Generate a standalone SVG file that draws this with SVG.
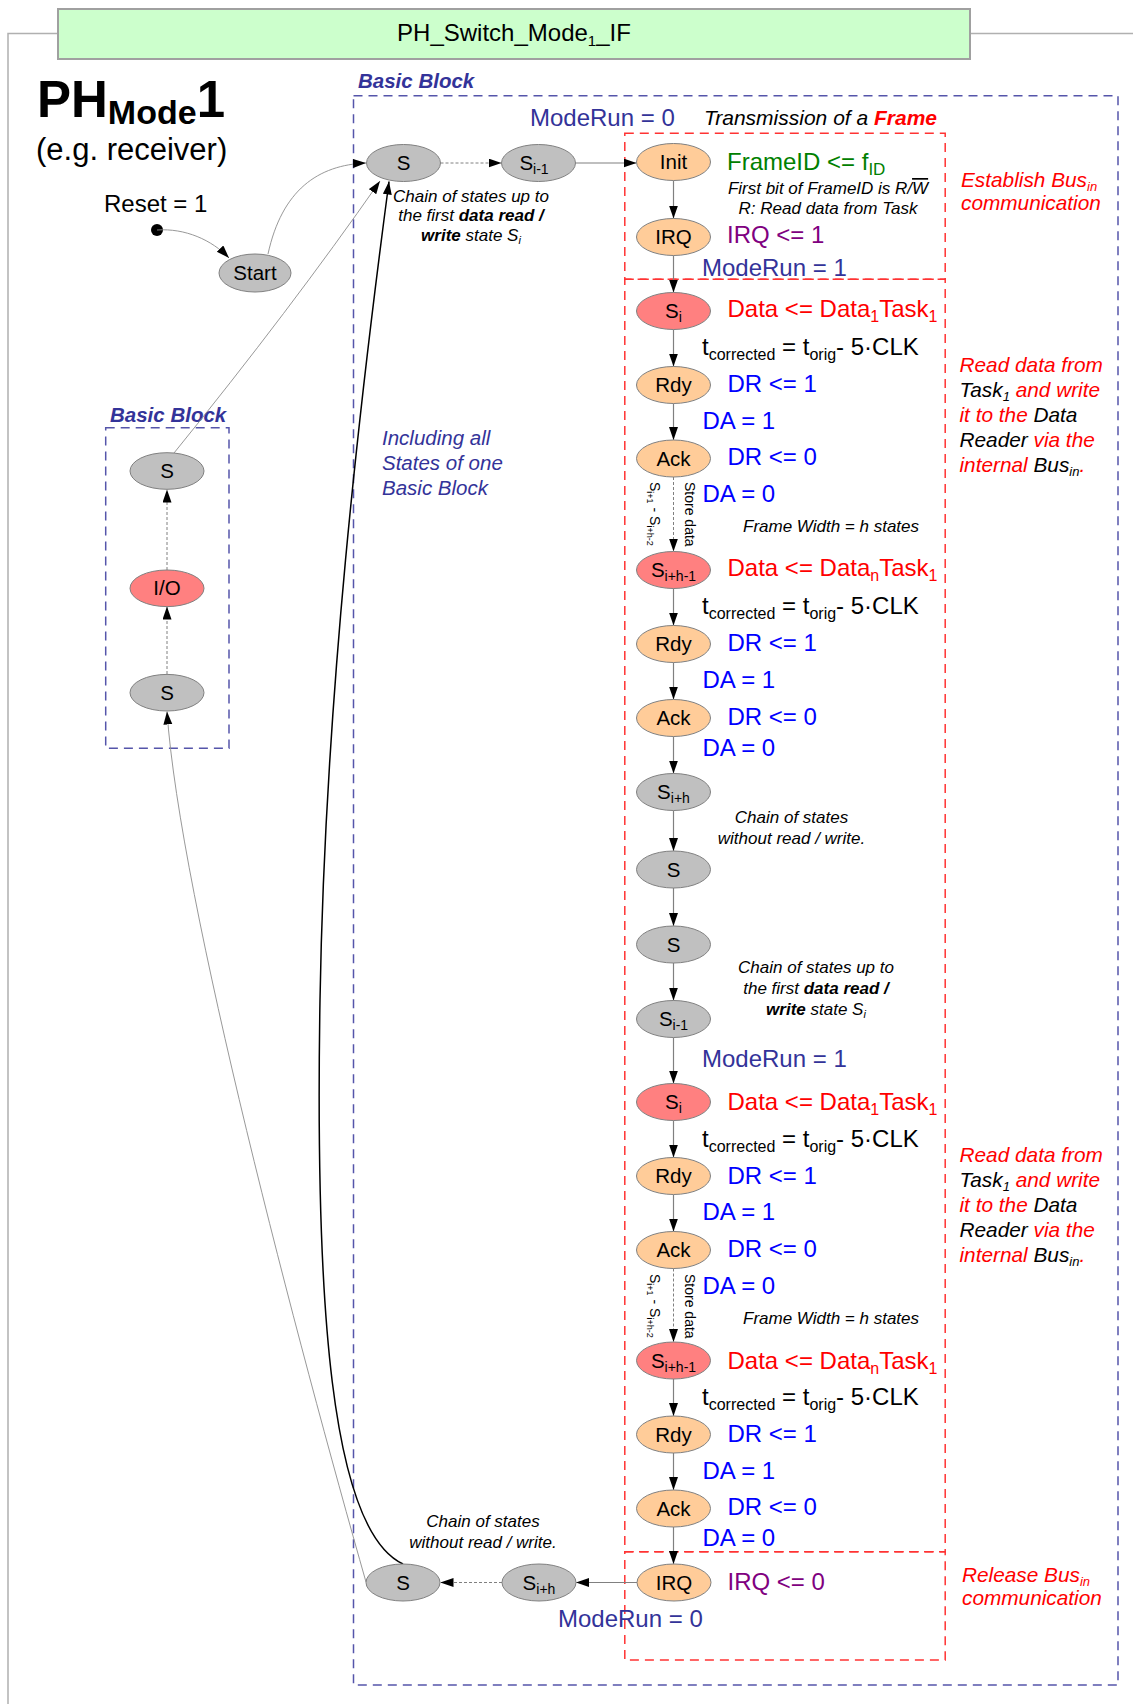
<svg xmlns="http://www.w3.org/2000/svg" width="1133" height="1704" viewBox="0 0 1133 1704">
<style>
text{font-family:"Liberation Sans",Arial,sans-serif;}
.n{font-size:20.5px;text-anchor:middle;fill:#000;}
.sb{font-size:14px;}
.gray{fill:#c0c0c0;stroke:#808080;stroke-width:1;}
.red{fill:#ff8080;stroke:#808080;stroke-width:1;}
.org{fill:#ffcc99;stroke:#808080;stroke-width:1;}
.ln{stroke:#808080;stroke-width:1.2;fill:none;marker-end:url(#ah);}
.dl{stroke:#808080;stroke-width:1;fill:none;stroke-dasharray:3,2;marker-end:url(#ah);}
.thin{stroke:#8c8c8c;stroke-width:0.9;fill:none;marker-end:url(#ah);}
.bb{fill:none;stroke:#5555aa;stroke-width:1.5;stroke-dasharray:9,6;}
.rb{fill:none;stroke:#ff3333;stroke-width:1.5;stroke-dasharray:9,6;}
.mr{font-size:24px;fill:#333399;}
.a{font-size:24px;}
.blu{fill:#0000ff;}
.rd{fill:#ff0000;}
.pur{fill:#800080;}
.grn{fill:#008000;}
.c17{font-size:17px;font-style:italic;text-anchor:middle;fill:#000;}
.fw{font-size:17px;font-style:italic;fill:#000;}
.side{font-size:20.8px;font-style:italic;fill:#ff0000;}
.k{fill:#000;}
.bbl{font-size:20.5px;font-weight:bold;font-style:italic;fill:#333399;}
.rot{font-size:14px;fill:#000;}
</style>
<defs>
<marker id="ah" markerUnits="userSpaceOnUse" markerWidth="13" markerHeight="10" refX="13" refY="4.5" orient="auto">
<path d="M0,0 L13,4.5 L0,9 z" fill="#000"/>
</marker>
</defs>

<!-- frame -->
<g id="frame">
<polyline points="8,1704 8,33.5 58,33.5" fill="none" stroke="#b0b0b0" stroke-width="1.5"/>
<line x1="970" y1="33.5" x2="1133" y2="33.5" stroke="#b0b0b0" stroke-width="1.5"/>
<rect x="58" y="9" width="912" height="50" fill="#ccffcc" stroke="#a0a0a0" stroke-width="2"/>
<text x="514" y="41" font-size="24" text-anchor="middle">PH_Switch_Mode<tspan font-size="15" dy="5">1</tspan><tspan dy="-5">_IF</tspan></text>
</g>

<g id="title">
<text x="37" y="117" font-size="51" font-weight="bold">PH<tspan font-size="34" dy="7">Mode</tspan><tspan dy="-7">1</tspan></text>
<text x="36" y="160" font-size="31">(e.g. receiver)</text>
<text x="104" y="212" font-size="24">Reset = 1</text>
</g>

<!-- blocks -->
<g id="basic-block-main">
<rect class="bb" x="353.5" y="95.7" width="764.5" height="1589.3"/>
<text class="bbl" x="358" y="88">Basic Block</text>
</g>
<g id="basic-block-left">
<rect class="bb" x="105.7" y="427.7" width="123.3" height="320.6"/>
<text class="bbl" x="110" y="421.5">Basic Block</text>
</g>
<g id="frame-boxes">
<rect class="rb" x="624.8" y="133.3" width="320.4" height="146"/>
<rect class="rb" x="624.8" y="279.3" width="320.4" height="1272.4"/>
<rect class="rb" x="624.8" y="1551.7" width="320.4" height="108.3"/>
</g>

<!-- connectors -->
<g id="connectors">
<circle cx="157" cy="230" r="6" fill="#000"/>
<path class="thin" d="M157,230 C185,228 212,240 229,258"/>
<path class="thin" d="M268,254 C282,190 318,165 366,163"/>
<path class="thin" d="M174,453 Q290,310 380,181"/>
<path class="thin" d="M366,1582 C300,1350 180,900 167,711.5"/>
<path d="M403,1564 C330,1530 315,1300 320,1000 C325,700 360,400 389,181.5" fill="none" stroke="#000" stroke-width="1.5" marker-end="url(#ah)"/>
<line class="dl" x1="440.5" y1="163" x2="501.5" y2="163"/>
<line class="ln" x1="575.5" y1="163" x2="636.5" y2="163"/>
<line class="ln" x1="673.5" y1="180.5" x2="673.5" y2="218.5"/>
<line class="ln" x1="673.5" y1="255.5" x2="673.5" y2="292.5"/>
<line class="ln" x1="673.5" y1="329.5" x2="673.5" y2="366.5"/>
<line class="ln" x1="673.5" y1="403.5" x2="673.5" y2="440"/>
<line class="dl" x1="673.5" y1="477" x2="673.5" y2="551.5"/>
<line class="ln" x1="673.5" y1="588.5" x2="673.5" y2="625.5"/>
<line class="ln" x1="673.5" y1="662.5" x2="673.5" y2="699.5"/>
<line class="ln" x1="673.5" y1="736.5" x2="673.5" y2="773.5"/>
<line class="ln" x1="673.5" y1="810.5" x2="673.5" y2="851"/>
<line class="ln" x1="673.5" y1="888" x2="673.5" y2="926"/>
<line class="ln" x1="673.5" y1="963" x2="673.5" y2="1000.5"/>
<line class="ln" x1="673.5" y1="1037.5" x2="673.5" y2="1083.5"/>
<line class="ln" x1="673.5" y1="1120.5" x2="673.5" y2="1157.5"/>
<line class="ln" x1="673.5" y1="1194.5" x2="673.5" y2="1231.5"/>
<line class="dl" x1="673.5" y1="1268.5" x2="673.5" y2="1342"/>
<line class="ln" x1="673.5" y1="1379" x2="673.5" y2="1416"/>
<line class="ln" x1="673.5" y1="1453" x2="673.5" y2="1490"/>
<line class="ln" x1="673.5" y1="1527" x2="673.5" y2="1564"/>
<line class="ln" x1="637" y1="1582.5" x2="576" y2="1582.5"/>
<line class="dl" x1="502" y1="1582.5" x2="440.5" y2="1582.5"/>
<line class="dl" x1="167" y1="674" x2="167" y2="606.5"/>
<line class="dl" x1="167" y1="570" x2="167" y2="489.5"/>
</g>

<!-- nodes -->
<g id="start"><ellipse class="gray" cx="255" cy="273" rx="36" ry="19"/><text class="n" x="255" y="280">Start</text></g>
<g id="bb-s-top"><ellipse class="gray" cx="167" cy="471" rx="37" ry="18.3"/><text class="n" x="167" y="478">S</text></g>
<g id="bb-io"><ellipse class="red" cx="167" cy="588.3" rx="37" ry="18.3"/><text class="n" x="167" y="595.3">I/O</text></g>
<g id="bb-s-bot"><ellipse class="gray" cx="167" cy="692.7" rx="37" ry="18.3"/><text class="n" x="167" y="699.7">S</text></g>

<g id="s-top"><ellipse class="gray" cx="403.5" cy="163" rx="37" ry="18.5"/><text class="n" x="403.5" y="170">S</text></g>
<g id="si-1-top"><ellipse class="gray" cx="538.5" cy="163" rx="37" ry="18.5"/><text class="n" x="534" y="170">S<tspan class="sb" dy="4">i-1</tspan></text></g>
<g id="init"><ellipse class="org" cx="673.5" cy="162" rx="37" ry="18.5"/><text class="n" x="673.5" y="169">Init</text></g>
<g id="irq1"><ellipse class="org" cx="673.5" cy="237" rx="37" ry="18.5"/><text class="n" x="673.5" y="244">IRQ</text></g>
<g id="si-a"><ellipse class="red" cx="673.5" cy="311" rx="37" ry="18.5"/><text class="n" x="673.5" y="318">S<tspan class="sb" dy="4">i</tspan></text></g>
<g id="rdy-a"><ellipse class="org" cx="673.5" cy="385" rx="37" ry="18.5"/><text class="n" x="673.5" y="392">Rdy</text></g>
<g id="ack-a"><ellipse class="org" cx="673.5" cy="458.5" rx="37" ry="18.5"/><text class="n" x="673.5" y="465.5">Ack</text></g>
<g id="sih1-a"><ellipse class="red" cx="673.5" cy="570" rx="37" ry="18.5"/><text class="n" x="673.5" y="577">S<tspan class="sb" dy="4">i+h-1</tspan></text></g>
<g id="rdy-b"><ellipse class="org" cx="673.5" cy="644" rx="37" ry="18.5"/><text class="n" x="673.5" y="651">Rdy</text></g>
<g id="ack-b"><ellipse class="org" cx="673.5" cy="718" rx="37" ry="18.5"/><text class="n" x="673.5" y="725">Ack</text></g>
<g id="sih-a"><ellipse class="gray" cx="673.5" cy="792" rx="37" ry="18.5"/><text class="n" x="673.5" y="799">S<tspan class="sb" dy="4">i+h</tspan></text></g>
<g id="s-mid1"><ellipse class="gray" cx="673.5" cy="869.5" rx="37" ry="18.5"/><text class="n" x="673.5" y="876.5">S</text></g>
<g id="s-mid2"><ellipse class="gray" cx="673.5" cy="944.5" rx="37" ry="18.5"/><text class="n" x="673.5" y="951.5">S</text></g>
<g id="si-1-mid"><ellipse class="gray" cx="673.5" cy="1019" rx="37" ry="18.5"/><text class="n" x="673.5" y="1026">S<tspan class="sb" dy="4">i-1</tspan></text></g>
<g id="si-b"><ellipse class="red" cx="673.5" cy="1102" rx="37" ry="18.5"/><text class="n" x="673.5" y="1109">S<tspan class="sb" dy="4">i</tspan></text></g>
<g id="rdy-c"><ellipse class="org" cx="673.5" cy="1176" rx="37" ry="18.5"/><text class="n" x="673.5" y="1183">Rdy</text></g>
<g id="ack-c"><ellipse class="org" cx="673.5" cy="1250" rx="37" ry="18.5"/><text class="n" x="673.5" y="1257">Ack</text></g>
<g id="sih1-b"><ellipse class="red" cx="673.5" cy="1360.5" rx="37" ry="18.5"/><text class="n" x="673.5" y="1367.5">S<tspan class="sb" dy="4">i+h-1</tspan></text></g>
<g id="rdy-d"><ellipse class="org" cx="673.5" cy="1434.5" rx="37" ry="18.5"/><text class="n" x="673.5" y="1441.5">Rdy</text></g>
<g id="ack-d"><ellipse class="org" cx="673.5" cy="1508.5" rx="37" ry="18.5"/><text class="n" x="673.5" y="1515.5">Ack</text></g>
<g id="irq2"><ellipse class="org" cx="674" cy="1582.5" rx="37" ry="18.5"/><text class="n" x="674" y="1589.5">IRQ</text></g>
<g id="sih-bot"><ellipse class="gray" cx="539" cy="1582.5" rx="37" ry="18.5"/><text class="n" x="539" y="1589.5">S<tspan class="sb" dy="4">i+h</tspan></text></g>
<g id="s-bot"><ellipse class="gray" cx="403" cy="1582.5" rx="37" ry="18.5"/><text class="n" x="403" y="1589.5">S</text></g>

<!-- annotations -->
<g id="labels">
<text class="mr" x="530" y="126">ModeRun = 0</text>
<text x="704" y="125" font-size="21" font-style="italic">Transmission of a <tspan font-weight="bold" fill="#ff0000">Frame</tspan></text>
<text class="a grn" x="727" y="170">FrameID &lt;= f<tspan font-size="17" dy="5">ID</tspan></text>
<text class="c17" x="828" y="194">First bit of FrameID is R/<tspan style="text-decoration:overline">W</tspan></text>
<text class="c17" x="828" y="214">R: Read data from Task</text>
<text class="a pur" x="727" y="243">IRQ &lt;= 1</text>
<text class="mr" x="702" y="276">ModeRun = 1</text>

<text class="c17" x="471" y="202">Chain of states up to</text>
<text class="c17" x="471" y="221">the first <tspan font-weight="bold">data read /</tspan></text>
<text class="c17" x="471" y="241"><tspan font-weight="bold">write</tspan> state S<tspan font-size="11" dy="3">i</tspan></text>

<text x="382" y="445" font-size="20.5" font-style="italic" fill="#333399">Including all</text>
<text x="382" y="470" font-size="20.5" font-style="italic" fill="#333399">States of one</text>
<text x="382" y="495" font-size="20.5" font-style="italic" fill="#333399">Basic Block</text>

<text class="side" x="961" y="187">Establish Bus<tspan font-size="13" dy="4">in</tspan></text>
<text class="side" x="961" y="210">communication</text>

<text class="a rd" x="727.5" y="317">Data &lt;= Data<tspan font-size="16" dy="5">1</tspan><tspan dy="-5">Task</tspan><tspan font-size="16" dy="5">1</tspan></text>
<text class="a k" x="702" y="355">t<tspan font-size="16" dy="5">corrected</tspan><tspan dy="-5"> = t</tspan><tspan font-size="16" dy="5">orig</tspan><tspan dy="-5">- 5·CLK</tspan></text>
<text class="a blu" x="727.5" y="392">DR &lt;= 1</text>
<text class="a blu" x="702.5" y="428.5">DA = 1</text>
<text class="a blu" x="727.5" y="465">DR &lt;= 0</text>
<text class="a blu" x="702.5" y="501.5">DA = 0</text>
<text class="fw" x="743" y="531.5">Frame Width = h states</text>
<text class="rot" transform="translate(650,482) rotate(90)">S<tspan font-size="9" dy="3">i+1</tspan><tspan dy="-3"> - S</tspan><tspan font-size="9" dy="3">i+h-2</tspan></text>
<text class="rot" transform="translate(685,482) rotate(90)">Store data</text>

<text class="side" x="959.5" y="371.5">Read data from</text>
<text class="side" x="959.5" y="396.5"><tspan class="k">Task<tspan font-size="13" dy="4">1</tspan></tspan><tspan dy="-4"> and write</tspan></text>
<text class="side" x="959.5" y="421.5">it to the <tspan class="k">Data</tspan></text>
<text class="side" x="959.5" y="446.5"><tspan class="k">Reader</tspan> via the</text>
<text class="side" x="959.5" y="471.5">internal <tspan class="k">Bus<tspan font-size="13" dy="4">in</tspan></tspan><tspan dy="-4">.</tspan></text>

<text class="a rd" x="727.5" y="576">Data &lt;= Data<tspan font-size="16" dy="5">n</tspan><tspan dy="-5">Task</tspan><tspan font-size="16" dy="5">1</tspan></text>
<text class="a k" x="702" y="613.5">t<tspan font-size="16" dy="5">corrected</tspan><tspan dy="-5"> = t</tspan><tspan font-size="16" dy="5">orig</tspan><tspan dy="-5">- 5·CLK</tspan></text>
<text class="a blu" x="727.5" y="651">DR &lt;= 1</text>
<text class="a blu" x="702.5" y="688">DA = 1</text>
<text class="a blu" x="727.5" y="724.5">DR &lt;= 0</text>
<text class="a blu" x="702.5" y="755.5">DA = 0</text>

<text class="c17" x="791.5" y="823">Chain of states</text>
<text class="c17" x="791.5" y="844">without read / write.</text>
<text class="c17" x="816" y="972.5">Chain of states up to</text>
<text class="c17" x="816" y="993.5">the first <tspan font-weight="bold">data read /</tspan></text>
<text class="c17" x="816" y="1014.5"><tspan font-weight="bold">write</tspan> state S<tspan font-size="11" dy="3">i</tspan></text>
<text class="mr" x="702" y="1067">ModeRun = 1</text>

<text class="a rd" x="727.5" y="1109.5">Data &lt;= Data<tspan font-size="16" dy="5">1</tspan><tspan dy="-5">Task</tspan><tspan font-size="16" dy="5">1</tspan></text>
<text class="a k" x="702" y="1147">t<tspan font-size="16" dy="5">corrected</tspan><tspan dy="-5"> = t</tspan><tspan font-size="16" dy="5">orig</tspan><tspan dy="-5">- 5·CLK</tspan></text>
<text class="a blu" x="727.5" y="1183.5">DR &lt;= 1</text>
<text class="a blu" x="702.5" y="1220">DA = 1</text>
<text class="a blu" x="727.5" y="1257">DR &lt;= 0</text>
<text class="a blu" x="702.5" y="1293.5">DA = 0</text>
<text class="fw" x="743" y="1323.5">Frame Width = h states</text>
<text class="rot" transform="translate(650,1274) rotate(90)">S<tspan font-size="9" dy="3">i+1</tspan><tspan dy="-3"> - S</tspan><tspan font-size="9" dy="3">i+h-2</tspan></text>
<text class="rot" transform="translate(685,1274) rotate(90)">Store data</text>

<text class="side" x="959.5" y="1161.5">Read data from</text>
<text class="side" x="959.5" y="1186.5"><tspan class="k">Task<tspan font-size="13" dy="4">1</tspan></tspan><tspan dy="-4"> and write</tspan></text>
<text class="side" x="959.5" y="1211.5">it to the <tspan class="k">Data</tspan></text>
<text class="side" x="959.5" y="1236.5"><tspan class="k">Reader</tspan> via the</text>
<text class="side" x="959.5" y="1261.5">internal <tspan class="k">Bus<tspan font-size="13" dy="4">in</tspan></tspan><tspan dy="-4">.</tspan></text>

<text class="a rd" x="727.5" y="1368.5">Data &lt;= Data<tspan font-size="16" dy="5">n</tspan><tspan dy="-5">Task</tspan><tspan font-size="16" dy="5">1</tspan></text>
<text class="a k" x="702" y="1405">t<tspan font-size="16" dy="5">corrected</tspan><tspan dy="-5"> = t</tspan><tspan font-size="16" dy="5">orig</tspan><tspan dy="-5">- 5·CLK</tspan></text>
<text class="a blu" x="727.5" y="1442">DR &lt;= 1</text>
<text class="a blu" x="702.5" y="1478.5">DA = 1</text>
<text class="a blu" x="727.5" y="1515">DR &lt;= 0</text>
<text class="a blu" x="702.5" y="1546">DA = 0</text>

<text class="a pur" x="727.5" y="1589.5">IRQ &lt;= 0</text>
<text class="mr" x="558" y="1627">ModeRun = 0</text>
<text class="side" x="962" y="1582">Release Bus<tspan font-size="13" dy="4">in</tspan></text>
<text class="side" x="962" y="1605">communication</text>
<text class="c17" x="483" y="1527">Chain of states</text>
<text class="c17" x="483" y="1548">without read / write.</text>
</g>
</svg>
